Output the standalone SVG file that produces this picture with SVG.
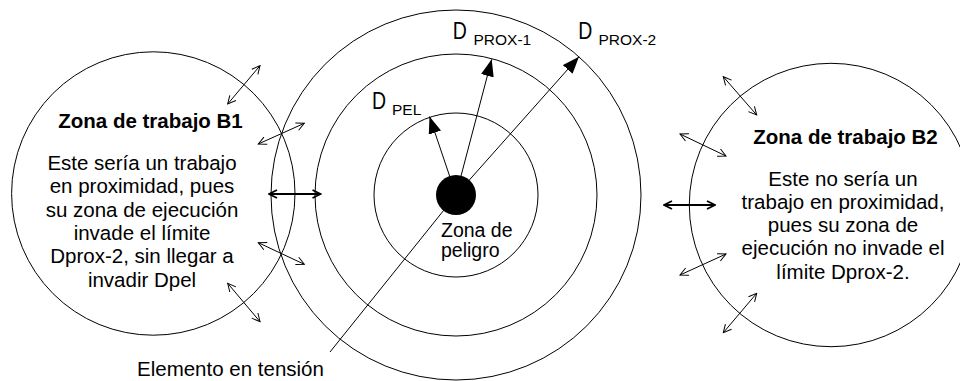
<svg xmlns="http://www.w3.org/2000/svg" width="960" height="381" viewBox="0 0 960 381">
<style>
.c{fill:none;stroke:#000;stroke-width:1}
.t{font-family:"Liberation Sans",Arial,sans-serif;font-size:20.5px;fill:#000}
.b{font-weight:bold}
.m{text-anchor:middle}
.dl{font-size:19.5px}
.sub{font-size:15.5px}
.ln{stroke:#000;stroke-width:1;fill:none}
.da{stroke:#000;stroke-width:1;fill:none;marker-start:url(#open);marker-end:url(#open)}
.db{stroke:#000;stroke-width:1.8;fill:none;marker-start:url(#openb);marker-end:url(#openb)}
.ar{marker-end:url(#tri)}
</style>
<defs>
<marker id="tri" viewBox="0 0 17 13" refX="17" refY="6.5" markerWidth="17" markerHeight="13" orient="auto" markerUnits="userSpaceOnUse"><path d="M0,0 L17,6.5 L0,13 z" fill="#000"/></marker>
<marker id="open" viewBox="0 0 10 10" refX="9" refY="5" markerWidth="10" markerHeight="10" orient="auto-start-reverse" markerUnits="userSpaceOnUse"><path d="M1,1 L9,5 L1,9" fill="none" stroke="#000" stroke-width="1"/></marker>
<marker id="openb" viewBox="0 0 10 10" refX="9" refY="5" markerWidth="10" markerHeight="10" orient="auto-start-reverse" markerUnits="userSpaceOnUse"><path d="M1,1 L9,5 L1,9" fill="none" stroke="#000" stroke-width="1.8"/></marker>
</defs>
<rect width="960" height="381" fill="#fff"/>

<g id="zona-b1">
<circle class="c" cx="153.3" cy="193.5" r="141.7"/>
<text class="t b m" x="150.5" y="127.5">Zona de trabajo B1</text>
<text class="t m" x="142" y="170">Este sería un trabajo</text>
<text class="t m" x="142" y="193.3">en proximidad, pues</text>
<text class="t m" x="142" y="216.6">su zona de ejecución</text>
<text class="t m" x="142" y="240">invade el límite</text>
<text class="t m" x="142" y="263.3">Dprox-2, sin llegar a</text>
<text class="t m" x="142" y="286.6">invadir Dpel</text>
</g>

<g id="zona-b2">
<circle class="c" cx="831" cy="205" r="141.7"/>
<text class="t b m" x="845.5" y="144">Zona de trabajo B2</text>
<text class="t m" x="843" y="185.5">Este no sería un</text>
<text class="t m" x="843" y="208.8">trabajo en proximidad,</text>
<text class="t m" x="843" y="232.1">pues su zona de</text>
<text class="t m" x="843" y="255.4">ejecución no invade el</text>
<text class="t m" x="843" y="278.7">límite Dprox-2.</text>
</g>

<g id="limites">
<circle id="dprox2-circulo" class="c" cx="456" cy="195" r="185"/>
<circle id="dprox1-circulo" class="c" cx="456" cy="195" r="141"/>
<circle id="dpel-circulo" class="c" cx="456" cy="195" r="82"/>
</g>

<g id="connectors">
<line class="ln ar" x1="456" y1="195" x2="429.5" y2="116.5"/>
<line class="ln ar" x1="456" y1="195" x2="491.7" y2="59.3"/>
<line class="ln ar" x1="456" y1="195" x2="579" y2="56.7"/>
<line class="ln" x1="330" y1="352" x2="456" y2="195"/>
<path class="da" d="M227.7,104 L260,65.7"/>
<path class="da" d="M258.3,144 L304.3,123.3"/>
<path class="db" d="M269,194 L320.5,194"/>
<path class="da" d="M258.3,242.7 L304.3,264.3"/>
<path class="da" d="M227.7,283.3 L260,321.7"/>
<path class="da" d="M723.3,76.7 L756.7,115"/>
<path class="da" d="M680,134 L726,156"/>
<path class="db" d="M664,205 L715,205"/>
<path class="da" d="M680,275 L726,254"/>
<path class="da" d="M723.3,332.7 L756.7,293.3"/>
</g>

<g id="zona-peligro">
<circle cx="456" cy="195" r="20" fill="#000"/>
<text class="t" style="font-size:19.5px"><tspan x="441" y="236.5">Zona de</tspan><tspan x="441" y="257">peligro</tspan></text>
</g>

<g id="etiqueta-dpel">
<text class="t dl" transform="translate(372,108.5) scale(1,1.2)">D</text>
<text class="t sub" x="392" y="114.5">PEL</text>
</g>
<g id="etiqueta-dprox1">
<text class="t dl" transform="translate(452.7,39) scale(1,1.2)">D</text>
<text class="t sub" x="473.5" y="45">PROX-1</text>
</g>
<g id="etiqueta-dprox2">
<text class="t dl" transform="translate(578.3,39) scale(1,1.2)">D</text>
<text class="t sub" x="598.5" y="45">PROX-2</text>
</g>
<g id="elemento-tension">
<text class="t" x="137" y="376">Elemento en tensión</text>
</g>
</svg>
